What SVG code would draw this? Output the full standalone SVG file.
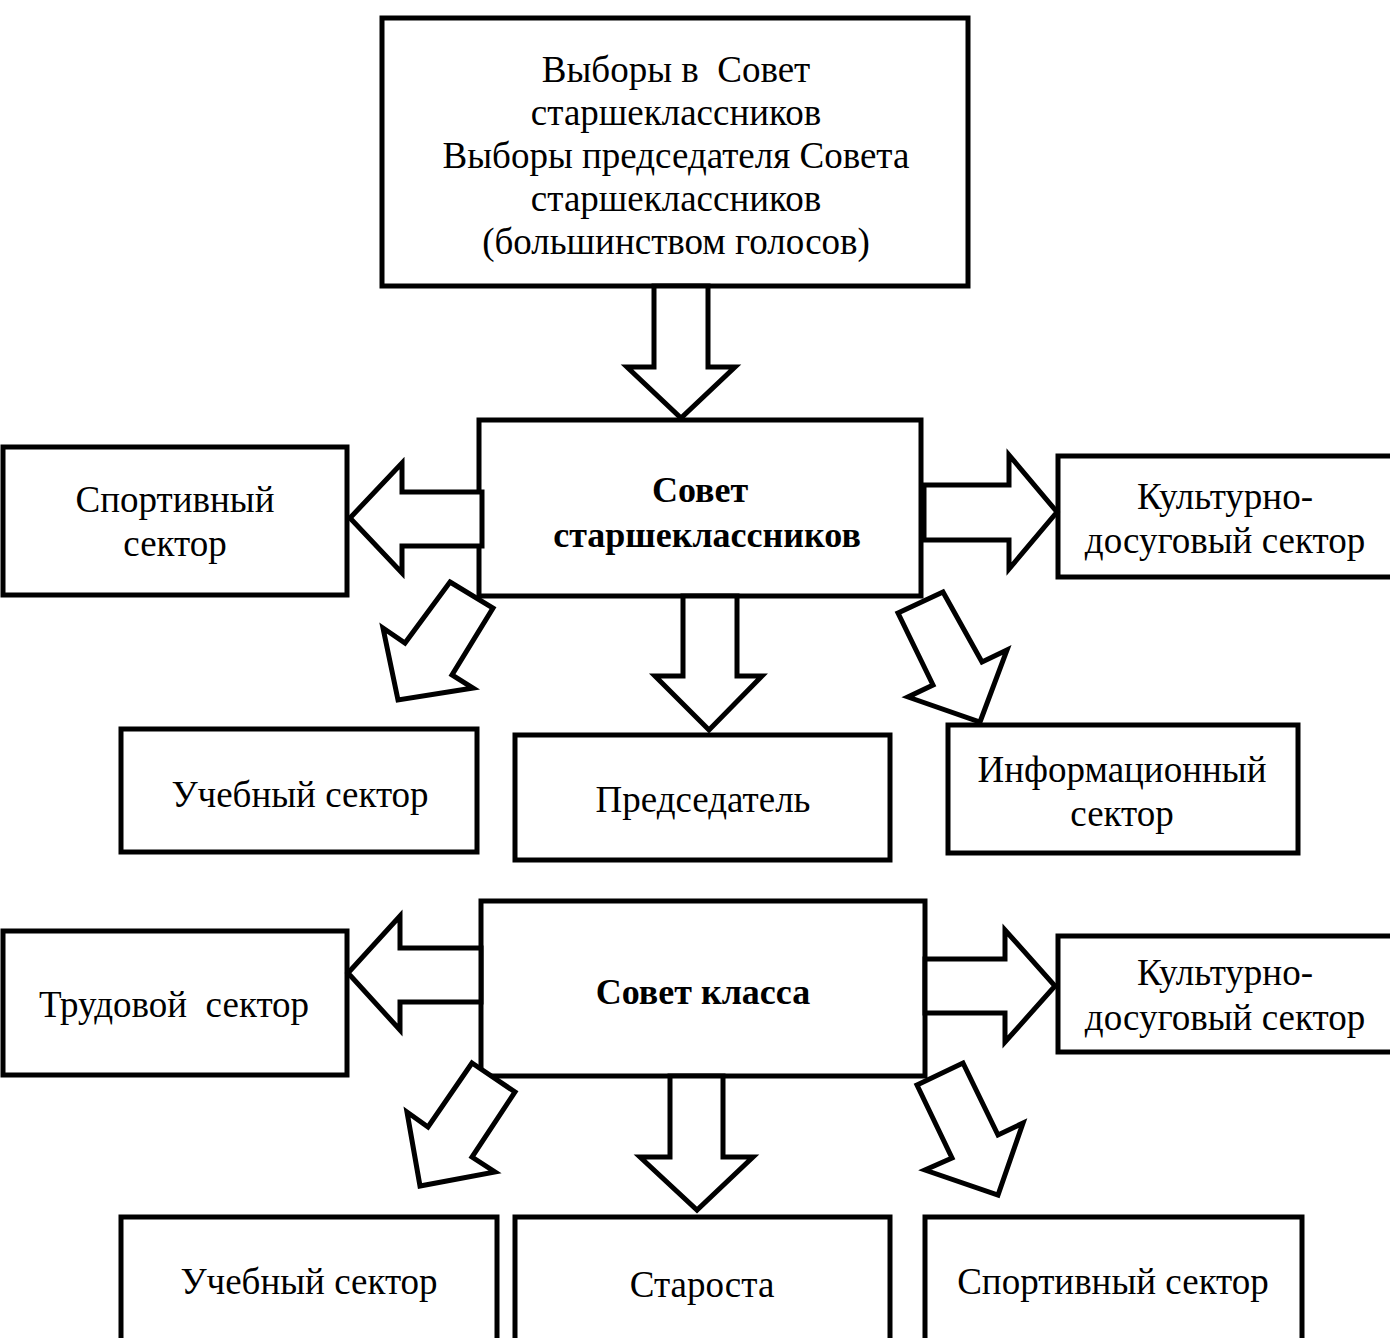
<svg xmlns="http://www.w3.org/2000/svg" width="1390" height="1338" viewBox="0 0 1390 1338">
<style>
.box{fill:#fff;stroke:#000;stroke-width:5}
.arr{fill:#fff;stroke:#000;stroke-width:5;stroke-linejoin:miter}
text{font-family:"Liberation Serif","Times New Roman",serif;font-size:37px;fill:#000;text-anchor:middle}
.b{font-weight:bold;font-size:36px}
</style>
<rect width="1390" height="1338" fill="#fff"/>
<g id="n-elections"><rect class="box" x="382" y="18" width="586" height="268"/>
<text x="676" y="82" xml:space="preserve">Выборы в  Совет</text>
<text x="676" y="125">старшеклассников</text>
<text x="676" y="168">Выборы председателя Совета</text>
<text x="676" y="211">старшеклассников</text>
<text x="676" y="254">(большинством голосов)</text></g>
<g id="n-council"><rect class="box" x="479" y="420" width="442" height="176"/>
<text class="b" x="700" y="502">Совет</text>
<text class="b" x="707" y="547">старшеклассников</text></g>
<g id="n-sport1"><rect class="box" x="3" y="447" width="344" height="148"/>
<text x="175" y="512">Спортивный</text>
<text x="175" y="556">сектор</text></g>
<g id="n-culture1"><rect class="box" x="1058" y="456" width="340" height="121"/>
<text x="1225" y="509">Культурно-</text>
<text x="1225" y="553">досуговый сектор</text></g>
<g id="n-study1"><rect class="box" x="121" y="729" width="356" height="123"/>
<text x="300" y="807">Учебный сектор</text></g>
<g id="n-chair"><rect class="box" x="515" y="735" width="375" height="125"/>
<text x="703" y="812">Председатель</text></g>
<g id="n-info"><rect class="box" x="948" y="725" width="350" height="128"/>
<text x="1122" y="782">Информационный</text>
<text x="1122" y="826">сектор</text></g>
<g id="n-class"><rect class="box" x="481" y="901" width="444" height="175"/>
<text class="b" x="703" y="1004">Совет класса</text></g>
<g id="n-labor"><rect class="box" x="3" y="931" width="344" height="144"/>
<text x="174" y="1017" xml:space="preserve">Трудовой  сектор</text></g>
<g id="n-culture2"><rect class="box" x="1058" y="936" width="340" height="116"/>
<text x="1225" y="985">Культурно-</text>
<text x="1225" y="1030">досуговый сектор</text></g>
<g id="n-study2"><rect class="box" x="121" y="1217" width="376" height="130"/>
<text x="309" y="1294">Учебный сектор</text></g>
<g id="n-head"><rect class="box" x="515" y="1217" width="375" height="130"/>
<text x="702" y="1297">Староста</text></g>
<g id="n-sport2"><rect class="box" x="925" y="1217" width="377" height="130"/>
<text x="1113" y="1294">Спортивный сектор</text></g>
<g id="connectors">
<polygon class="arr" points="654,286 708,286 708,367 735,367 681,418 627,367 654,367"/>
<polygon class="arr" points="482,492 402,492 402,463 350,518 402,573 402,546 482,546"/>
<polygon class="arr" points="924,485 1009,485 1009,455 1057,512 1009,569 1009,540 924,540"/>
<polygon class="arr" points="450,582 493,608 452,675 473,688 398,700 383,628 405,643"/>
<polygon class="arr" points="898,613 943,592 982,662 1007,650 980,722 908,697 933,685"/>
<polygon class="arr" points="683,596 737,596 737,676 762,676 709,730 655,676 683,676"/>
<polygon class="arr" points="481,948 400,948 400,916 348,973 400,1030 400,1002 481,1002"/>
<polygon class="arr" points="925,959 1005,959 1005,930 1055,986 1005,1042 1005,1013 925,1013"/>
<polygon class="arr" points="472,1063 515,1092 472,1157 495,1172 420,1186 407,1112 428,1127"/>
<polygon class="arr" points="917,1085 963,1063 998,1135 1023,1123 998,1195 925,1170 952,1158"/>
<polygon class="arr" points="670,1076 723,1076 723,1157 753,1157 697,1210 640,1157 670,1157"/>
</g>
</svg>
